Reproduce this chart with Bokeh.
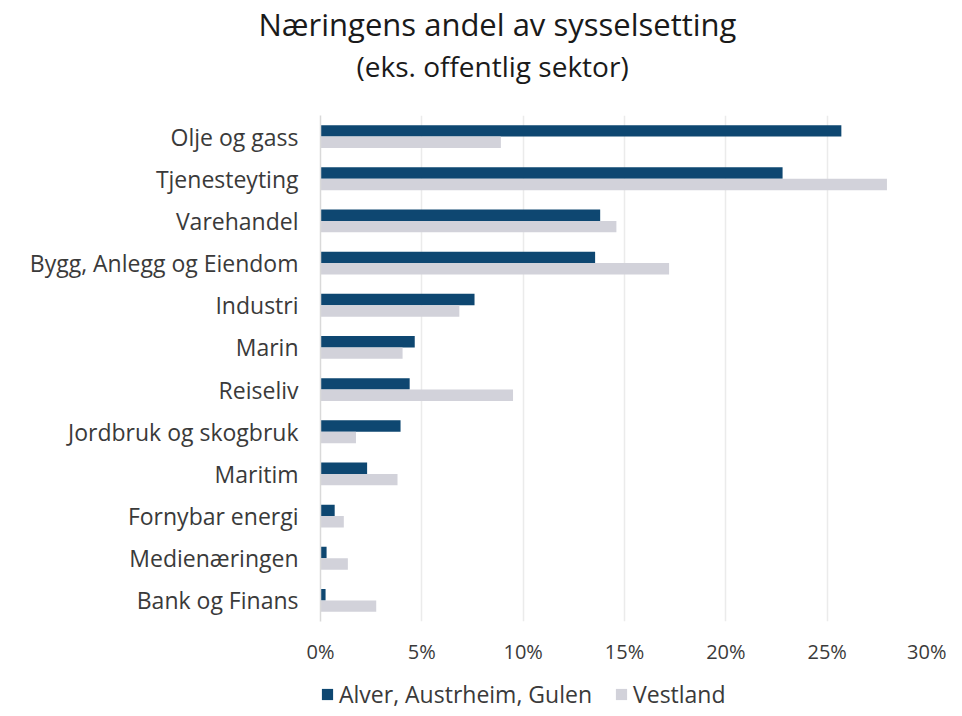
from bokeh.plotting import figure
from bokeh.layouts import column
from bokeh.models import (FactorRange, Legend, LegendItem, FixedTicker, Title,
                          CustomJSTickFormatter, ColumnDataSource)
from bokeh.transform import dodge
from bokeh.embed import file_html
from bokeh.resources import INLINE

categories = ["Olje og gass", "Tjenesteyting", "Varehandel", "Bygg, Anlegg og Eiendom",
              "Industri", "Marin", "Reiseliv", "Jordbruk og skogbruk", "Maritim",
              "Fornybar energi", "Medienæringen", "Bank og Finans"]
alver = [25.7, 22.8, 13.8, 13.55, 7.6, 4.65, 4.4, 3.95, 2.3, 0.7, 0.3, 0.25]
vestland = [8.9, 27.95, 14.6, 17.2, 6.85, 4.05, 9.5, 1.75, 3.8, 1.15, 1.35, 2.75]
series_names = ["Alver, Austrheim, Gulen", "Vestland"]
x_ticks = [0, 5, 10, 15, 20, 25, 30]

DARK = "#0E4771"
GREY = "#D2D2DA"
FONT = "Open Sans"
TXT = "#3A3A3A"

src = ColumnDataSource(dict(cat=categories, a=alver, v=vestland))

p = figure(y_range=FactorRange(*reversed(categories)), x_range=(0, 30),
           width=946, height=670, output_backend="svg",
           toolbar_location=None, min_border_left=320, min_border_right=18,
           min_border_top=114, min_border_bottom=49)

p.hbar(y=dodge("cat", 0.135, range=p.y_range), right="a", left=0, height=0.27,
       source=src, color=DARK, line_color=None)
p.hbar(y=dodge("cat", -0.135, range=p.y_range), right="v", left=0, height=0.27,
       source=src, color=GREY, line_color=None)

p.outline_line_color = None
p.ygrid.grid_line_color = None
p.xgrid.grid_line_color = "#EBEBEB"
p.xgrid.grid_line_width = 1.5
p.xaxis.ticker = FixedTicker(ticks=x_ticks)
p.xaxis.formatter = CustomJSTickFormatter(code="return tick + '%';")
p.xaxis.axis_line_color = None
p.xaxis.major_tick_line_color = None
p.xaxis.minor_tick_line_color = None
p.xaxis.major_tick_out = 0
p.xaxis.major_tick_in = 0
p.xaxis.major_label_standoff = 16
p.xaxis.major_label_text_font = FONT
p.xaxis.major_label_text_font_size = "20px"
p.xaxis.major_label_text_color = TXT

p.yaxis.axis_line_color = "#D9D9D9"
p.yaxis.axis_line_width = 1.5
p.yaxis.major_tick_line_color = None
p.yaxis.minor_tick_line_color = None
p.yaxis.major_tick_out = 0
p.yaxis.major_tick_in = 0
p.yaxis.major_label_standoff = 22
p.yaxis.major_label_text_font = FONT
p.yaxis.major_label_text_font_size = "23px"
p.yaxis.major_label_text_color = TXT

# spacer between plot area and subtitle
p.add_layout(Title(text=" ", text_font_size="1px", standoff=28), "above")
p.add_layout(Title(text="(eks. offentlig sektor)", align="left", offset=36,
                   text_font=FONT, text_font_size="28px", text_font_style="normal",
                   text_color="#1A1A1A", standoff=0), "above")
p.add_layout(Title(text="Næringens andel av sysselsetting", align="left", offset=-62,
                   text_font=FONT, text_font_size="31px", text_font_style="normal",
                   text_color="#1A1A1A", standoff=0), "above")

# legend strip below the chart (legend-only renderers with zero-width bars)
lf = figure(width=946, height=44, x_range=(0, 1), y_range=(0, 1),
            output_backend="svg", toolbar_location=None, min_border=0)
lf.outline_line_color = None
lf.axis.visible = False
lf.grid.visible = False
lr1 = lf.hbar(y=[5], left=[0], right=[0], height=0.1, color=DARK, line_color=None)
lr2 = lf.hbar(y=[5], left=[0], right=[0], height=0.1, color=GREY, line_color=None)
legend = Legend(items=[LegendItem(label=series_names[0], renderers=[lr1]),
                       LegendItem(label=series_names[1], renderers=[lr2])],
                location=(0, 4), orientation="horizontal",
                glyph_width=14, glyph_height=14, label_standoff=5, spacing=22,
                padding=0, margin=0, border_line_color=None, background_fill_alpha=0,
                label_text_font=FONT, label_text_font_size="23px", label_text_color=TXT,
                label_height=22)
lf.add_layout(legend, "center")

open("out.html", "w").write(file_html(column(p, lf, spacing=0), INLINE))
